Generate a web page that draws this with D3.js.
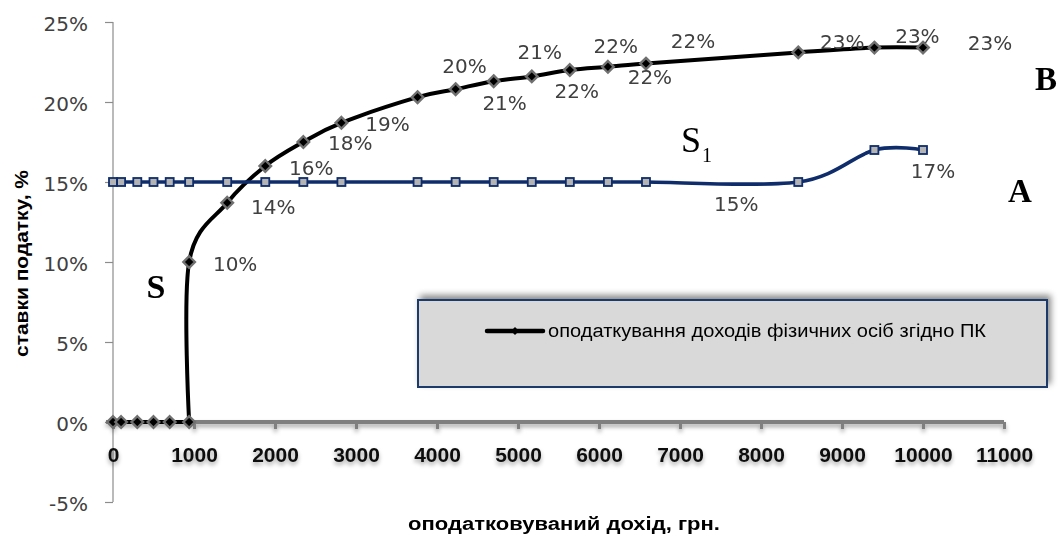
<!DOCTYPE html>
<html><head><meta charset="utf-8">
<script src="https://cdn.jsdelivr.net/npm/d3@7"></script>
<style>
html,body{margin:0;padding:0;background:#fff;}
svg{display:block;}
</style></head>
<body>
<svg id="chart" width="1059" height="536"></svg>
<script>
// ---- data ----
const pkIncome = [0,100,300,500,700,940,940,1410,1880,2350,2820,3760,4230,4700,5170,5640,6110,6580,8460,9400,10000];
const pkRate   = [0,0,0,0,0,0,10,13.7,16.0,17.5,18.7,20.3,20.8,21.3,21.6,22.0,22.2,22.4,23.1,23.4,23.4];
const flatIncome = [0,100,300,500,700,940,1410,1880,2350,2820,3760,4230,4700,5170,5640,6110,6580,8460,9400,10000];
const flatRate   = [15,15,15,15,15,15,15,15,15,15,15,15,15,15,15,15,15,15,17,17];
const xTicks = [0,1000,2000,3000,4000,5000,6000,7000,8000,9000,10000,11000];
const yTicks = [-5,0,5,10,15,20,25];
const legendLabel = "оподаткування доходів фізичних осіб згідно ПК";
const xTitle = "оподатковуваний дохід, грн.";
const yTitle = "ставки податку, %";

// label layout (pixel offsets from the marker)
const pkLabelOffsets = [[46,2],[46,4],[46,2],[47,1],[46,1],[47,-31],[49,14],[46,-29],[45,14],[46,-24],[42,10],[47,-23],[44,-11],[43,-12],[67,-5]];
const flatLabels = [{i:17, dx:-62, dy:22},{i:19, dx:10, dy:21}];

const svg = d3.select("#chart");
const x = d3.scaleLinear().domain([0,11000]).range([113,1004]);
const y = d3.scaleLinear().domain([-5,25]).range([502,22]);

const defs = svg.append("defs");
const f1 = defs.append("filter").attr("id","axShadow").attr("x","-5%").attr("y","-200%").attr("width","110%").attr("height","500%");
f1.append("feDropShadow").attr("dx",0).attr("dy",3).attr("stdDeviation",2).attr("flood-color","#000").attr("flood-opacity",0.35);
const f2 = defs.append("filter").attr("id","lgShadow").attr("x","-10%").attr("y","-30%").attr("width","120%").attr("height","160%");
f2.append("feDropShadow").attr("dx",3).attr("dy",-4).attr("stdDeviation",3).attr("flood-color","#000").attr("flood-opacity",0.45);

// ---- y axis ----
const yAxis = svg.append("g").attr("transform","translate(113,0)")
  .call(d3.axisLeft(y).tickValues(yTicks).tickSize(8).tickPadding(17).tickFormat(d=>d+"%"));
yAxis.select(".domain").attr("stroke","#8c8c8c").attr("stroke-width",1.2).attr("d","M0,22V502");
yAxis.selectAll(".tick line").attr("stroke","#8c8c8c").attr("stroke-width",1.2);
yAxis.selectAll(".tick text").attr("font-family","DejaVu Sans").attr("font-size",20).attr("fill","#404040").attr("dy","0.42em");

// ---- x axis at y=0 ----
const xAxis = svg.append("g").attr("transform",`translate(0,${y(0)})`).attr("filter","url(#axShadow)")
  .call(d3.axisBottom(x).tickValues(xTicks).tickSize(7).tickPadding(18).tickFormat(d=>d));
xAxis.select(".domain").attr("stroke","#7f7f7f").attr("stroke-width",4).attr("d",`M106,0H${x(11000)}`);
xAxis.selectAll(".tick line").attr("stroke","#7f7f7f").attr("stroke-width",3);
xAxis.selectAll(".tick text").attr("font-family","Liberation Sans").attr("font-weight","bold").attr("font-size",21).attr("fill","#111");

// ---- series: PK (black) ----
const pkData = pkIncome.map((v,i)=>({x:v,y:pkRate[i]}));
const flatData = flatIncome.map((v,i)=>({x:v,y:flatRate[i]}));
const smooth = d3.line().x(d=>x(d.x)).y(d=>y(d.y)).curve(d3.curveCardinal.tension(0));
const straight = d3.line().x(d=>x(d.x)).y(d=>y(d.y));
const knee = pkRate.findIndex(v=>v>0) - 1; // last zero-rate point

svg.append("path").datum(pkData.slice(0, knee+1)).attr("d",straight).attr("fill","none").attr("stroke","#000").attr("stroke-width",4);
svg.append("path").datum(pkData.slice(knee)).attr("d",smooth).attr("fill","none").attr("stroke","#000").attr("stroke-width",4);
const diamond = d3.symbol().type(d3.symbolDiamond2).size(85);
svg.append("g").selectAll("path").data(pkData).join("path")
  .attr("transform",d=>`translate(${x(d.x)},${y(d.y)})`)
  .attr("d",diamond).attr("fill","#000").attr("stroke","#707070").attr("stroke-width",2.4);

// ---- series: flat 15% (navy) ----
svg.append("path").datum(flatData).attr("d",smooth).attr("fill","none").attr("stroke","#0f2d6b").attr("stroke-width",3.6);
svg.append("g").selectAll("rect").data(flatData).join("rect")
  .attr("x",d=>x(d.x)-4).attr("y",d=>y(d.y)-4).attr("width",8).attr("height",8)
  .attr("fill","#b4b4b4").attr("stroke","#0f2d6b").attr("stroke-width",1.8);

// ---- data labels ----
const pkLabeled = pkData.filter(d=>d.y>0);
svg.append("g").selectAll("text").data(pkLabeled).join("text")
  .attr("x",(d,i)=>x(d.x)+pkLabelOffsets[i][0])
  .attr("y",(d,i)=>y(d.y)+pkLabelOffsets[i][1])
  .attr("dy","0.36em").attr("text-anchor","middle")
  .attr("font-family","DejaVu Sans").attr("font-size",20).attr("fill","#404040")
  .text(d=>Math.round(d.y)+"%");
svg.append("g").selectAll("text").data(flatLabels).join("text")
  .attr("x",d=>x(flatData[d.i].x)+d.dx)
  .attr("y",d=>y(flatData[d.i].y)+d.dy)
  .attr("dy","0.36em").attr("text-anchor","middle")
  .attr("font-family","DejaVu Sans").attr("font-size",20).attr("fill","#404040")
  .text(d=>Math.round(flatData[d.i].y)+"%");

// ---- annotations ----
svg.append("text").attr("x",156).attr("y",298).attr("text-anchor","middle")
  .attr("font-family","Liberation Serif").attr("font-weight","bold").attr("font-size",34).text("S");
const s1 = svg.append("text").attr("x",681).attr("y",152).attr("font-family","Liberation Serif").attr("font-size",36);
s1.append("tspan").text("S");
s1.append("tspan").attr("font-size",20).attr("dy",10).attr("dx",1).text("1");
svg.append("text").attr("x",1046).attr("y",90).attr("text-anchor","middle")
  .attr("font-family","Liberation Serif").attr("font-weight","bold").attr("font-size",33).text("B");
svg.append("text").attr("x",1020).attr("y",202).attr("text-anchor","middle")
  .attr("font-family","Liberation Serif").attr("font-weight","bold").attr("font-size",33).text("A");

// ---- legend ----
const lg = svg.append("g");
lg.append("rect").attr("x",418).attr("y",300).attr("width",629).attr("height",87)
  .attr("fill","#d9d9d9").attr("stroke","#1f3b6b").attr("stroke-width",2).attr("filter","url(#lgShadow)");
lg.append("line").attr("x1",487).attr("x2",543).attr("y1",331).attr("y2",331).attr("stroke","#000").attr("stroke-width",4.5).attr("stroke-linecap","round");
lg.append("path").attr("transform","translate(515,331)").attr("d",d3.symbol().type(d3.symbolDiamond2).size(40)).attr("fill","#000");
lg.append("text").attr("x",548).attr("y",331).attr("dy","0.35em")
  .attr("font-family","Liberation Sans Narrow, Liberation Sans").attr("font-size",18).attr("fill","#000")
  .attr("textLength",438).attr("lengthAdjust","spacingAndGlyphs").text(legendLabel);

// ---- axis titles ----
svg.append("text").attr("x",408).attr("y",530)
  .attr("font-family","Liberation Sans").attr("font-weight","bold").attr("font-size",18).attr("fill","#000")
  .attr("textLength",312).attr("lengthAdjust","spacingAndGlyphs").text(xTitle);
svg.append("text").attr("transform","translate(28,357) rotate(-90)")
  .attr("font-family","Liberation Sans").attr("font-weight","bold").attr("font-size",18).attr("fill","#000")
  .attr("textLength",187).attr("lengthAdjust","spacingAndGlyphs").text(yTitle);
</script>
</body></html>
